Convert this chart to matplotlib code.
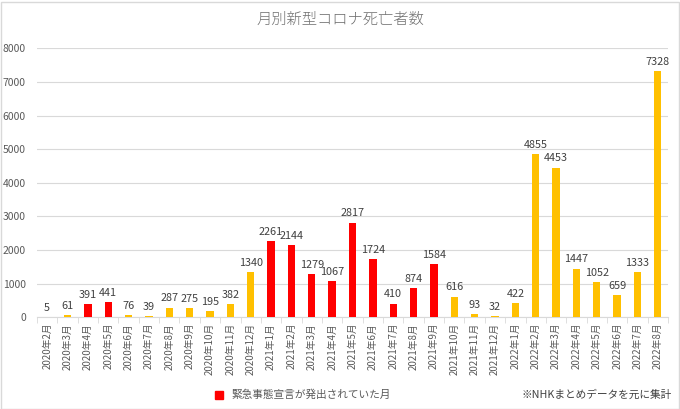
import matplotlib
matplotlib.use("Agg")
import matplotlib.pyplot as plt
from matplotlib.patches import Rectangle

plt.rcParams['font.family'] = ['Noto Sans CJK JP', 'DejaVu Sans']

months = ["2020年2月", "2020年3月", "2020年4月", "2020年5月", "2020年6月", "2020年7月",
          "2020年8月", "2020年9月", "2020年10月", "2020年11月", "2020年12月",
          "2021年1月", "2021年2月", "2021年3月", "2021年4月", "2021年5月", "2021年6月",
          "2021年7月", "2021年8月", "2021年9月", "2021年10月", "2021年11月", "2021年12月",
          "2022年1月", "2022年2月", "2022年3月", "2022年4月", "2022年5月", "2022年6月",
          "2022年7月", "2022年8月"]
deaths = [5, 61, 391, 441, 76, 39, 287, 275, 195, 382, 1340,
          2261, 2144, 1279, 1067, 2817, 1724, 410, 874, 1584, 616, 93, 32,
          422, 4855, 4453, 1447, 1052, 659, 1333, 7328]
# 緊急事態宣言が出ていた月
emergency = ["2020年4月", "2020年5月", "2021年1月", "2021年2月", "2021年3月", "2021年4月",
             "2021年5月", "2021年6月", "2021年7月", "2021年8月", "2021年9月"]

RED = "#FF0000"
YELLOW = "#FFC000"
GRAY = "#595959"

fig = plt.figure(figsize=(6.8, 4.09), dpi=100)
ax = fig.add_axes([37 / 680, 1 - 317.3 / 409, 631 / 680, 269 / 409])

colors = [RED if m in emergency else YELLOW for m in months]
x = list(range(len(months)))
ax.bar(x, deaths, width=0.36, color=colors, zorder=3)

for i, v in zip(x, deaths):
    ax.annotate(str(v), (i, v), xytext=(0, 3), textcoords="offset points",
                ha="center", va="bottom", fontsize=7.8, color="#404040")

ax.set_xlim(-0.5, len(months) - 0.5)
ax.set_ylim(0, 8000)
ax.set_yticks(range(0, 8001, 1000))
ax.yaxis.grid(True, color="#D9D9D9", linewidth=0.8, zorder=0)
ax.set_axisbelow(True)

ax.set_xticks(x)
ax.set_xticklabels(months, rotation=90, fontsize=7, color=GRAY)
ax.set_xticks([i - 0.5 for i in range(len(months) + 1)], minor=True)
ax.tick_params(axis="x", which="major", length=0, pad=4)
ax.tick_params(axis="x", which="minor", length=4, color="#D9D9D9")
ax.tick_params(axis="y", length=0, labelsize=7.5, labelcolor=GRAY, pad=8)

for s in ["top", "right", "left"]:
    ax.spines[s].set_visible(False)
ax.spines["bottom"].set_color("#D9D9D9")

fig.text(340 / 680, 1 - 20 / 409, "月別新型コロナ死亡者数", ha="center", va="center",
         fontsize=11, color="#707070", fontweight="light")

# legend and note
fig.patches.append(Rectangle((215 / 680, 1 - 399 / 409), 8 / 680, 8 / 409,
                             transform=fig.transFigure, color=RED))
fig.text(231 / 680, 1 - 395 / 409, "緊急事態宣言が発出されていた月", ha="left", va="center",
         fontsize=7.7, color=GRAY)
fig.text(672 / 680, 1 - 395 / 409, "※NHKまとめデータを元に集計", ha="right", va="center",
         fontsize=7.7, color="#404040")

fig.patches.append(Rectangle((0.5 / 680, 0.5 / 409), 678 / 680, 407 / 409,
                             transform=fig.transFigure, fill=False,
                             edgecolor="#D9D9D9", linewidth=1))

fig.savefig("out.png", dpi=100)
